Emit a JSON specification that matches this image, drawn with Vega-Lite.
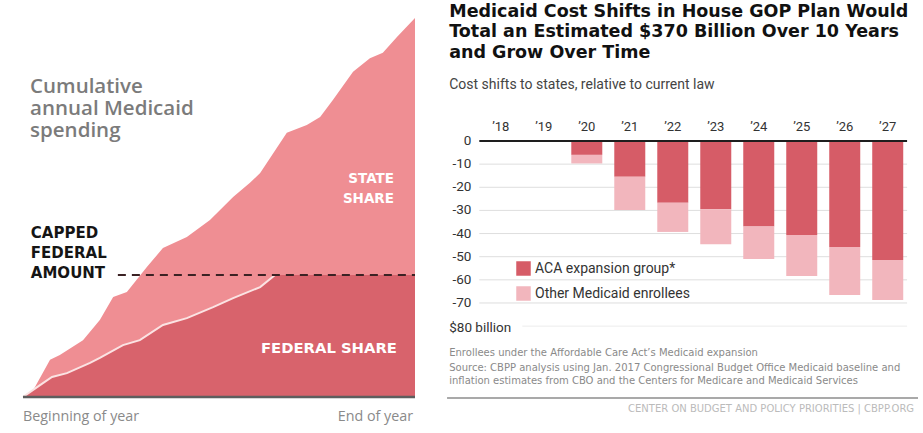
{
  "$schema": "https://vega.github.io/schema/vega-lite/v6.json",
  "padding": 0,
  "background": "white",
  "spacing": 0,
  "config": {"view": {"stroke": null}, "concat": {"spacing": 0}},
  "datasets": {
    "total": [
      {"t": 0, "v": 0}, {"t": 2.6, "v": 1.8}, {"t": 6.9, "v": 9.8}, {"t": 9.4, "v": 11.1},
      {"t": 15.3, "v": 15.0}, {"t": 19.6, "v": 20.3}, {"t": 23.0, "v": 26.4}, {"t": 26.5, "v": 27.7},
      {"t": 31.6, "v": 34.3}, {"t": 35.7, "v": 39.3}, {"t": 41.8, "v": 42.2}, {"t": 47.7, "v": 46.7},
      {"t": 53.6, "v": 52.8}, {"t": 57.9, "v": 56.5}, {"t": 60.5, "v": 59.1}, {"t": 67.3, "v": 69.7},
      {"t": 72.4, "v": 71.8}, {"t": 75.8, "v": 73.9}, {"t": 79.1, "v": 78.4}, {"t": 84.2, "v": 85.8},
      {"t": 88.5, "v": 89.4}, {"t": 91.8, "v": 90.8}, {"t": 95.4, "v": 95.0}, {"t": 100, "v": 100}
    ],
    "federal": [
      {"t": 0, "v": 0}, {"t": 3.6, "v": 2.6}, {"t": 7.4, "v": 5.3}, {"t": 11.2, "v": 6.3},
      {"t": 17.1, "v": 9.0}, {"t": 19.6, "v": 10.3}, {"t": 25.5, "v": 13.7}, {"t": 29.8, "v": 15.0},
      {"t": 35.7, "v": 19.0}, {"t": 41.8, "v": 20.8}, {"t": 48.5, "v": 23.7}, {"t": 53.6, "v": 26.1},
      {"t": 60.5, "v": 29.0}, {"t": 64.3, "v": 32.2}, {"t": 100, "v": 32.2}
    ],
    "bars": [
      {"year": 2018, "label": "’18", "group": "ACA expansion group*", "value": 0},
      {"year": 2018, "label": "’18", "group": "Other Medicaid enrollees", "value": 0},
      {"year": 2019, "label": "’19", "group": "ACA expansion group*", "value": 0},
      {"year": 2019, "label": "’19", "group": "Other Medicaid enrollees", "value": 0},
      {"year": 2020, "label": "’20", "group": "ACA expansion group*", "value": -6.0},
      {"year": 2020, "label": "’20", "group": "Other Medicaid enrollees", "value": -3.7},
      {"year": 2021, "label": "’21", "group": "ACA expansion group*", "value": -15.5},
      {"year": 2021, "label": "’21", "group": "Other Medicaid enrollees", "value": -14.3},
      {"year": 2022, "label": "’22", "group": "ACA expansion group*", "value": -26.7},
      {"year": 2022, "label": "’22", "group": "Other Medicaid enrollees", "value": -12.6},
      {"year": 2023, "label": "’23", "group": "ACA expansion group*", "value": -29.5},
      {"year": 2023, "label": "’23", "group": "Other Medicaid enrollees", "value": -15.1},
      {"year": 2024, "label": "’24", "group": "ACA expansion group*", "value": -37.0},
      {"year": 2024, "label": "’24", "group": "Other Medicaid enrollees", "value": -14.0},
      {"year": 2025, "label": "’25", "group": "ACA expansion group*", "value": -40.6},
      {"year": 2025, "label": "’25", "group": "Other Medicaid enrollees", "value": -17.7},
      {"year": 2026, "label": "’26", "group": "ACA expansion group*", "value": -45.8},
      {"year": 2026, "label": "’26", "group": "Other Medicaid enrollees", "value": -20.7},
      {"year": 2027, "label": "’27", "group": "ACA expansion group*", "value": -51.4},
      {"year": 2027, "label": "’27", "group": "Other Medicaid enrollees", "value": -17.3}
    ],
    "grid": [{"g": -10}, {"g": -20}, {"g": -30}, {"g": -40}, {"g": -50}, {"g": -60}, {"g": -70}],
    "ticks": [
      {"g": 0, "label": "0"}, {"g": -10, "label": "-10"}, {"g": -20, "label": "-20"},
      {"g": -30, "label": "-30"}, {"g": -40, "label": "-40"}, {"g": -50, "label": "-50"},
      {"g": -60, "label": "-60"}, {"g": -70, "label": "-70"}, {"g": -80, "label": "$80 billion"}
    ]
  },
  "hconcat": [
    {
      "width": 440,
      "height": 433,
      "layer": [
        {
          "data": {"name": "total"},
          "mark": {"type": "area", "color": "#ef8e93", "opacity": 1},
          "encoding": {
            "x": {"field": "t", "type": "quantitative", "scale": {"domain": [-5.867, 106.38], "nice": false, "zero": false}, "axis": null},
            "y": {"field": "v", "type": "quantitative", "scale": {"domain": [-9.5, 104.75], "nice": false, "zero": false}, "axis": null}
          }
        },
        {
          "data": {"name": "federal"},
          "mark": {"type": "area", "color": "#d8636c", "opacity": 1},
          "encoding": {
            "x": {"field": "t", "type": "quantitative", "axis": null},
            "y": {"field": "v", "type": "quantitative", "axis": null}
          }
        },
        {
          "data": {"name": "federal"},
          "transform": [{"filter": "datum.t <= 64.3"}],
          "mark": {"type": "line", "color": "#fbe3e3", "strokeWidth": 2},
          "encoding": {
            "x": {"field": "t", "type": "quantitative", "axis": null},
            "y": {"field": "v", "type": "quantitative", "axis": null}
          }
        },
        {
          "data": {"values": [{}]},
          "mark": {"type": "rule", "color": "#3b2224", "strokeWidth": 2, "strokeDash": [8, 6]},
          "encoding": {
            "x": {"datum": 24.2, "type": "quantitative", "axis": null},
            "x2": {"datum": 100},
            "y": {"datum": 32.2, "type": "quantitative", "axis": null}
          }
        },
        {
          "data": {"values": [{}]},
          "mark": {"type": "rule", "color": "#5e5e5e", "strokeWidth": 2.5},
          "encoding": {
            "x": {"datum": 0, "type": "quantitative", "axis": null},
            "x2": {"datum": 100},
            "y": {"datum": 0, "type": "quantitative", "axis": null}
          }
        },
        {
          "data": {"values": [{}]},
          "mark": {"type": "text", "text": ["Cumulative", "annual Medicaid", "spending"], "align": "left", "baseline": "alphabetic", "font": "Open Sans", "fontWeight": 600, "fontSize": 20.5, "lineHeight": 22, "color": "#7b7b7b"},
          "encoding": {
            "x": {"datum": 1.8, "type": "quantitative", "axis": null},
            "y": {"datum": 80.2, "type": "quantitative", "axis": null}
          }
        },
        {
          "data": {"values": [{}]},
          "mark": {"type": "text", "text": ["CAPPED", "FEDERAL", "AMOUNT"], "align": "left", "baseline": "alphabetic", "font": "DejaVu Sans", "fontWeight": "bold", "fontSize": 15, "lineHeight": 20, "color": "#151515"},
          "encoding": {
            "x": {"datum": 2.0, "type": "quantitative", "axis": null},
            "y": {"datum": 41.95, "type": "quantitative", "axis": null}
          }
        },
        {
          "data": {"values": [{}]},
          "mark": {"type": "text", "text": ["STATE", "SHARE"], "align": "right", "baseline": "alphabetic", "font": "DejaVu Sans", "fontWeight": "bold", "fontSize": 13.5, "lineHeight": 20, "color": "#ffffff"},
          "encoding": {
            "x": {"datum": 94.64, "type": "quantitative", "axis": null},
            "y": {"datum": 56.46, "type": "quantitative", "axis": null}
          }
        },
        {
          "data": {"values": [{}]},
          "mark": {"type": "text", "text": "FEDERAL SHARE", "align": "right", "baseline": "alphabetic", "font": "DejaVu Sans", "fontWeight": "bold", "fontSize": 14.8, "color": "#ffffff"},
          "encoding": {
            "x": {"datum": 95.4, "type": "quantitative", "axis": null},
            "y": {"datum": 11.6, "type": "quantitative", "axis": null}
          }
        },
        {
          "data": {"values": [{}]},
          "mark": {"type": "text", "text": "Beginning of year", "align": "left", "baseline": "alphabetic", "font": "Open Sans", "fontSize": 14.3, "color": "#8a8a8a"},
          "encoding": {
            "x": {"datum": 0, "type": "quantitative", "axis": null},
            "y": {"datum": -6.33, "type": "quantitative", "axis": null}
          }
        },
        {
          "data": {"values": [{}]},
          "mark": {"type": "text", "text": "End of year", "align": "right", "baseline": "alphabetic", "font": "Open Sans", "fontSize": 14.3, "color": "#8a8a8a"},
          "encoding": {
            "x": {"datum": 99.5, "type": "quantitative", "axis": null},
            "y": {"datum": -6.33, "type": "quantitative", "axis": null}
          }
        }
      ]
    },
    {
      "width": 483,
      "height": 433,
      "layer": [
        {
          "data": {"name": "grid"},
          "mark": {"type": "rule", "color": "#dedede", "strokeWidth": 1},
          "encoding": {
            "x": {"datum": 2017.5, "type": "quantitative", "scale": {"domain": [2016.702, 2027.704], "nice": false, "zero": false}, "axis": null},
            "x2": {"datum": 2027.45},
            "y": {"field": "g", "type": "quantitative", "scale": {"domain": [-126.19, 60.93], "nice": false, "zero": false}, "axis": null}
          }
        },
        {
          "data": {"values": [{}]},
          "mark": {"type": "rule", "color": "#ececec", "strokeWidth": 1},
          "encoding": {
            "x": {"datum": 2018.5, "type": "quantitative", "axis": null},
            "x2": {"datum": 2027.45},
            "y": {"datum": -80, "type": "quantitative", "axis": null}
          }
        },
        {
          "data": {"name": "bars"},
          "mark": {"type": "bar", "width": 31},
          "encoding": {
            "x": {"field": "year", "type": "quantitative", "axis": null},
            "y": {"field": "value", "type": "quantitative", "stack": "zero", "axis": null},
            "color": {
              "field": "group", "type": "nominal",
              "scale": {"domain": ["ACA expansion group*", "Other Medicaid enrollees"], "range": ["#d65c67", "#f2b6bd"]},
              "legend": {
                "title": null, "orient": "none", "legendX": 516, "legendY": 261,
                "symbolType": "square", "symbolSize": 210, "symbolStrokeWidth": 0, "symbolOpacity": 1,
                "labelFont": "Roboto", "labelFontSize": 14, "labelColor": "#333333", "labelOffset": 4, "rowPadding": 10
              }
            },
            "order": {"field": "group", "sort": "ascending"}
          }
        },
        {
          "data": {"values": [{}]},
          "mark": {"type": "rule", "color": "#1e1e1e", "strokeWidth": 2},
          "encoding": {
            "x": {"datum": 2017.5, "type": "quantitative", "axis": null},
            "x2": {"datum": 2027.45},
            "y": {"datum": 0, "type": "quantitative", "axis": null}
          }
        },
        {
          "data": {"name": "ticks"},
          "transform": [{"filter": "datum.g > -80"}],
          "mark": {"type": "text", "align": "right", "baseline": "middle", "font": "Roboto", "fontSize": 13.5, "color": "#333333"},
          "encoding": {
            "x": {"datum": 2017.317, "type": "quantitative", "axis": null},
            "y": {"field": "g", "type": "quantitative", "axis": null},
            "text": {"field": "label"}
          }
        },
        {
          "data": {"name": "ticks"},
          "transform": [{"filter": "datum.g == -80"}],
          "mark": {"type": "text", "align": "left", "baseline": "middle", "dy": 2, "font": "Roboto", "fontSize": 13.5, "color": "#333333"},
          "encoding": {
            "x": {"datum": 2016.8, "type": "quantitative", "axis": null},
            "y": {"field": "g", "type": "quantitative", "axis": null},
            "text": {"field": "label"}
          }
        },
        {
          "data": {"name": "bars"},
          "transform": [{"filter": "datum.group == 'ACA expansion group*'"}],
          "mark": {"type": "text", "align": "center", "baseline": "middle", "font": "Roboto", "fontSize": 13, "color": "#333333"},
          "encoding": {
            "x": {"field": "year", "type": "quantitative", "axis": null},
            "y": {"datum": 6.05, "type": "quantitative", "axis": null},
            "text": {"field": "label"}
          }
        },
        {
          "data": {"values": [{}]},
          "mark": {"type": "text", "text": ["Medicaid Cost Shifts in House GOP Plan Would", "Total an Estimated $370 Billion Over 10 Years", "and Grow Over Time"], "align": "left", "baseline": "alphabetic", "font": "DejaVu Sans", "fontWeight": "bold", "fontSize": 17.5, "lineHeight": 20.5, "color": "#111111"},
          "encoding": {
            "x": {"datum": 2016.8, "type": "quantitative", "axis": null},
            "y": {"datum": 53.59, "type": "quantitative", "axis": null}
          }
        },
        {
          "data": {"values": [{}]},
          "mark": {"type": "text", "text": "Cost shifts to states, relative to current law", "align": "left", "baseline": "alphabetic", "font": "Roboto", "fontSize": 14, "color": "#444444"},
          "encoding": {
            "x": {"datum": 2016.8, "type": "quantitative", "axis": null},
            "y": {"datum": 22.47, "type": "quantitative", "axis": null}
          }
        },
        {
          "data": {"values": [{}]},
          "mark": {"type": "text", "text": "Enrollees under the Affordable Care Act’s Medicaid expansion", "align": "left", "baseline": "alphabetic", "font": "DejaVu Sans", "fontSize": 10, "color": "#8a8a8a"},
          "encoding": {
            "x": {"datum": 2016.8, "type": "quantitative", "axis": null},
            "y": {"datum": -92.9, "type": "quantitative", "axis": null}
          }
        },
        {
          "data": {"values": [{}]},
          "mark": {"type": "text", "text": ["Source: CBPP analysis using Jan. 2017 Congressional Budget Office Medicaid baseline and", "inflation estimates from CBO and the Centers for Medicare and Medicaid Services"], "align": "left", "baseline": "alphabetic", "font": "DejaVu Sans", "fontSize": 10, "lineHeight": 12.5, "color": "#8a8a8a"},
          "encoding": {
            "x": {"datum": 2016.8, "type": "quantitative", "axis": null},
            "y": {"datum": -99.4, "type": "quantitative", "axis": null}
          }
        },
        {
          "data": {"values": [{}]},
          "mark": {"type": "rule", "color": "#8c8c8c", "strokeWidth": 1.5},
          "encoding": {
            "x": {"datum": 2016.75, "type": "quantitative", "axis": null},
            "x2": {"datum": 2027.704},
            "y": {"datum": -111.06, "type": "quantitative", "axis": null}
          }
        },
        {
          "data": {"values": [{}]},
          "mark": {"type": "text", "text": "CENTER ON BUDGET AND POLICY PRIORITIES | CBPP.ORG", "align": "left", "baseline": "alphabetic", "font": "DejaVu Sans", "fontSize": 10, "color": "#bbbbbb", "clip": true},
          "encoding": {
            "x": {"datum": 2020.96, "type": "quantitative", "axis": null},
            "y": {"datum": -117.1, "type": "quantitative", "axis": null}
          }
        }
      ]
    }
  ]
}
